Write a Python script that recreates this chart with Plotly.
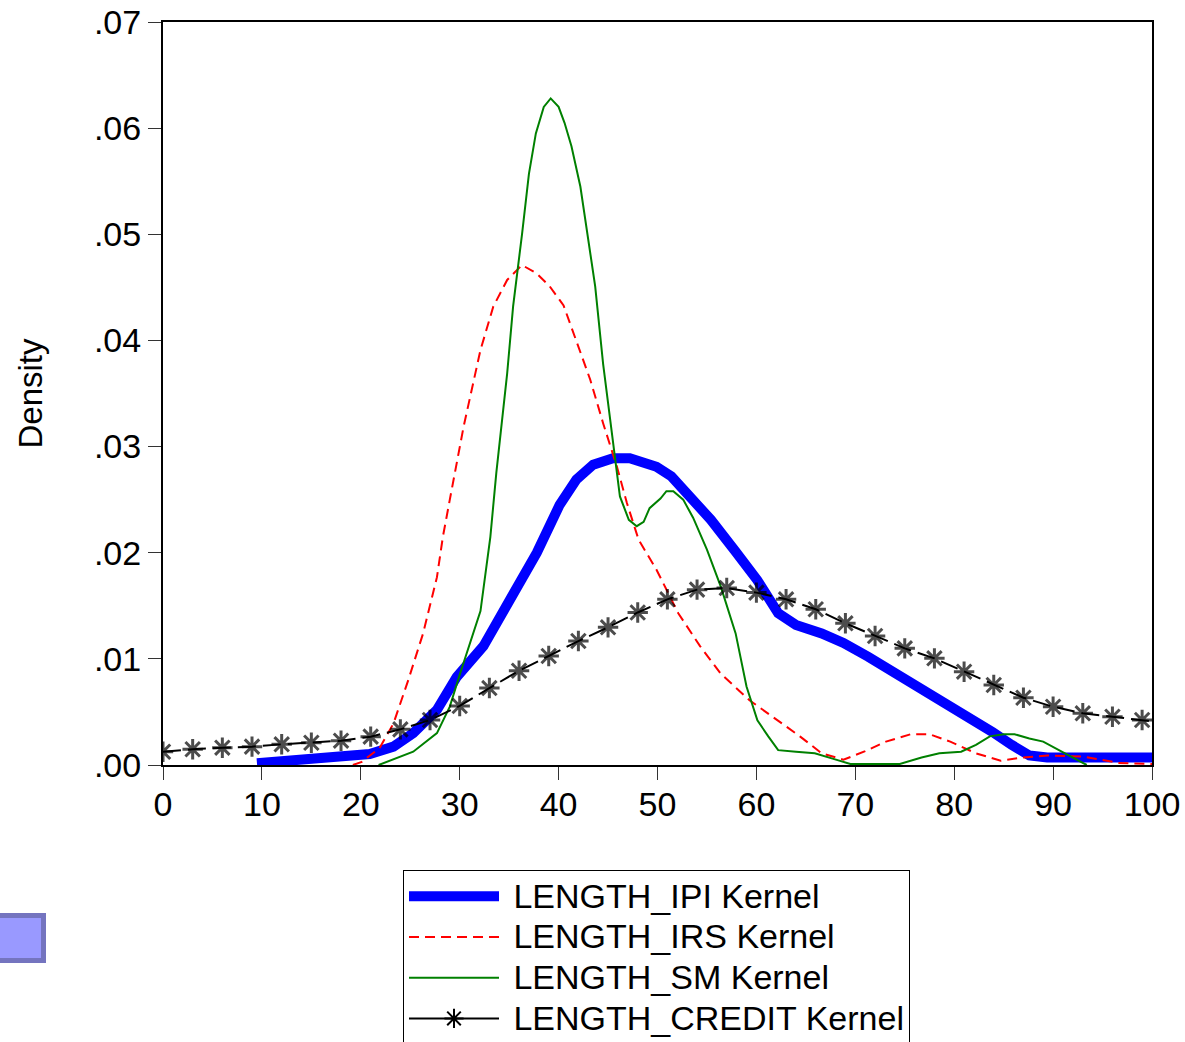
import plotly.graph_objects as go

# Kernel density estimates of spell length
ipi_x = [9.5, 13.2, 17, 20.9, 23.3, 25.3, 27.7, 29.7, 32.4, 35.1, 37.8, 40.1, 41.8, 43.5,
         45.5, 47.2, 48.1, 49.9, 51.4, 53.2, 55.4, 57.9, 60.1, 62.2, 64.0, 66.6, 68.8, 71.3,
         73.8, 76.4, 78.5, 80.3, 81.8, 83.9, 85.8, 87.6, 89.4, 93.0, 96.6, 100]
ipi_y = [0.00016, 0.00047, 0.00075, 0.00104, 0.00173, 0.0030, 0.0052, 0.0083, 0.0112, 0.0156,
         0.0200, 0.0245, 0.0269, 0.0283, 0.0289, 0.0289, 0.0286, 0.0281, 0.0272, 0.0254, 0.0231,
         0.0201, 0.0174, 0.0143, 0.0132, 0.0124, 0.0115, 0.0102, 0.0088, 0.0075, 0.0061, 0.0052,
         0.0045, 0.0031, 0.0019, 0.0009, 0.0007, 0.0007, 0.0008, 0.0007]

irs_x = [19.2, 20.1, 21.9, 23.3, 24.8, 26.3, 27.7, 28.3, 29.0, 30.4, 32.1, 33.4, 34.8, 36.3,
         37.8, 39.1, 40.5, 41.8, 43.2, 44.5, 45.9, 46.9, 48.1, 49.9, 52.1, 54.3, 56.4, 59.3,
         62.2, 64.4, 66.6, 68.8, 71.0, 73.1, 75.6, 77.5, 79.6, 82.2, 84.7, 86.9, 89.4, 93.0,
         96.6, 100]
irs_y = [0.0, 0.0003, 0.0016, 0.0039, 0.0080, 0.0124, 0.0177, 0.0215, 0.0250, 0.0319, 0.0391,
         0.0432, 0.0457, 0.0471, 0.0463, 0.0451, 0.0433, 0.0400, 0.0363, 0.0322, 0.0281, 0.0247,
         0.0212, 0.0184, 0.0143, 0.0112, 0.0086, 0.0061, 0.0042, 0.0027, 0.0011, 0.0005, 0.0013,
         0.0022, 0.0029, 0.0029, 0.0022, 0.0011, 0.0004, 0.0007, 0.0009, 0.0008, 0.0002, 0.0001]

sm_x = [21.8, 25.3, 27.7, 29.0, 30.0, 30.7, 32.1, 33.1, 33.7, 34.8, 35.4, 36.3, 37.0, 37.7,
        38.5, 39.2, 40.0, 40.6, 41.3, 42.2, 42.8, 43.7, 44.5, 45.5, 46.2, 47.1, 47.9, 48.6,
        49.2, 50.3, 50.9, 51.6, 52.6, 53.6, 55.0, 56.4, 57.9, 59.0, 60.1, 61.2, 62.2, 64.0,
        65.9, 67.7, 69.5, 74.5, 76.7, 78.5, 80.7, 82.2, 83.6, 85.0, 86.1, 87.6, 89.0, 91.2, 93.4]
sm_y = [0.0, 0.00125, 0.0030, 0.0055, 0.0085, 0.0105, 0.0145, 0.0215, 0.0275, 0.0369, 0.0432,
        0.0500, 0.0557, 0.0595, 0.0620, 0.0628, 0.0620, 0.0605, 0.0583, 0.0545, 0.0507, 0.0451,
        0.0378, 0.0305, 0.0253, 0.0231, 0.0225, 0.0229, 0.0242, 0.0251, 0.0258, 0.0258, 0.0250,
        0.0233, 0.0203, 0.0168, 0.0124, 0.0074, 0.0042, 0.0027, 0.0014, 0.00125, 0.0011, 0.0006,
        0.0001, 0.0001, 0.0007, 0.0011, 0.00125, 0.0019, 0.0027, 0.0029, 0.0029, 0.0025, 0.0022,
        0.0011, 0.0]

credit_x = [0, 3, 6, 9, 12, 15, 18, 21, 24, 27, 30, 33, 36, 39, 42, 45, 48, 51, 54, 57, 60,
            63, 66, 69, 72, 75, 78, 81, 84, 87, 90, 93, 96, 99, 100]
credit_y = [0.00125, 0.00148, 0.00163, 0.00173, 0.00195, 0.0021, 0.00229, 0.00267, 0.00336,
            0.00424, 0.00556, 0.00725, 0.00888, 0.01027, 0.01168, 0.01297, 0.01437, 0.01561,
            0.01652, 0.01667, 0.01624, 0.01561, 0.01467, 0.01335, 0.01215, 0.01099, 0.01005,
            0.00879, 0.00754, 0.00634, 0.00549, 0.00487, 0.00455, 0.00424, 0.0041]

x_ticks = [0, 10, 20, 30, 40, 50, 60, 70, 80, 90, 100]
y_ticks = [0.00, 0.01, 0.02, 0.03, 0.04, 0.05, 0.06, 0.07]
y_tick_labels = [".00", ".01", ".02", ".03", ".04", ".05", ".06", ".07"]

names = ["LENGTH_IPI Kernel", "LENGTH_IRS Kernel", "LENGTH_SM Kernel", "LENGTH_CREDIT Kernel"]
# legend rows are laid out from a smaller base size; the label text itself is larger
legend_labels = ['<span style="font-size:34px">\u00a0' + n + "</span>" for n in names]

FONT = "Liberation Sans, Arial, sans-serif"
W, H = 1185, 1042
L, R, T, B = 163, 33, 22, 277
PW, PH = W - L - R, H - T - B


def px_x(p):
    return (p - L) / PW


def px_y(p):
    return (H - B - p) / PH


fig = go.Figure()

fig.add_trace(go.Scatter(x=ipi_x, y=ipi_y, mode="lines", name=legend_labels[0],
                         line=dict(color="#0000ff", width=10)))
fig.add_trace(go.Scatter(x=irs_x, y=irs_y, mode="lines", name=legend_labels[1],
                         line=dict(color="#ff0000", width=2, dash="10px,6px")))
fig.add_trace(go.Scatter(x=sm_x, y=sm_y, mode="lines", name=legend_labels[2],
                         line=dict(color="#008000", width=2)))

marker_sizes = [17] * (len(credit_x) - 1) + [0]
fig.add_trace(go.Scatter(x=credit_x, y=credit_y, mode="lines+markers", name=legend_labels[3],
                         showlegend=False, legendgroup="credit",
                         line=dict(color="#000000", width=2, dash="18px,7px"),
                         marker=dict(symbol="asterisk-open", size=marker_sizes, color="#000000",
                                     line=dict(color="#000000", width=3))))
fig.add_trace(go.Scatter(x=[None], y=[None], mode="lines+markers", name=legend_labels[3],
                         legendgroup="credit",
                         line=dict(color="#000000", width=2),
                         marker=dict(symbol="asterisk-open", size=16, color="#000000",
                                     line=dict(color="#000000", width=2))))

axis_common = dict(showline=True, linecolor="#000000", linewidth=2, mirror=True,
                   ticks="outside", ticklen=13, tickwidth=1, tickcolor="#333333",
                   showgrid=False, zeroline=False,
                   tickfont=dict(family=FONT, size=34, color="#000000"))

fig.update_xaxes(range=[0, 100], tickvals=x_ticks, ticktext=[str(v) for v in x_ticks],
                 ticklabelstandoff=-5, **axis_common)
fig.update_yaxes(range=[0, 0.07], tickvals=y_ticks, ticktext=y_tick_labels, **axis_common)

fig.add_annotation(text="Density", textangle=-90, xref="paper", yref="paper",
                   x=px_x(30), y=0.5, xanchor="center", yanchor="middle", showarrow=False,
                   font=dict(family=FONT, size=33, color="#000000"))

# small blue box at the lower left
fig.add_shape(type="rect", xref="paper", yref="paper",
              x0=px_x(-10), x1=px_x(43.5), y0=px_y(960.5), y1=px_y(915.5),
              line=dict(color="#7474bf", width=5), fillcolor="#9999ff", layer="above")

fig.update_layout(
    width=W, height=H,
    margin=dict(l=L, r=R, t=T, b=B, autoexpand=False),
    paper_bgcolor="#ffffff", plot_bgcolor="#ffffff",
    showlegend=True,
    legend=dict(x=px_x(403), y=px_y(870), xanchor="left", yanchor="top",
                bordercolor="#000000", borderwidth=1, bgcolor="#ffffff",
                font=dict(family=FONT, size=29, color="#000000"),
                itemwidth=90, tracegroupgap=0),
)

fig.write_html("out.html")
